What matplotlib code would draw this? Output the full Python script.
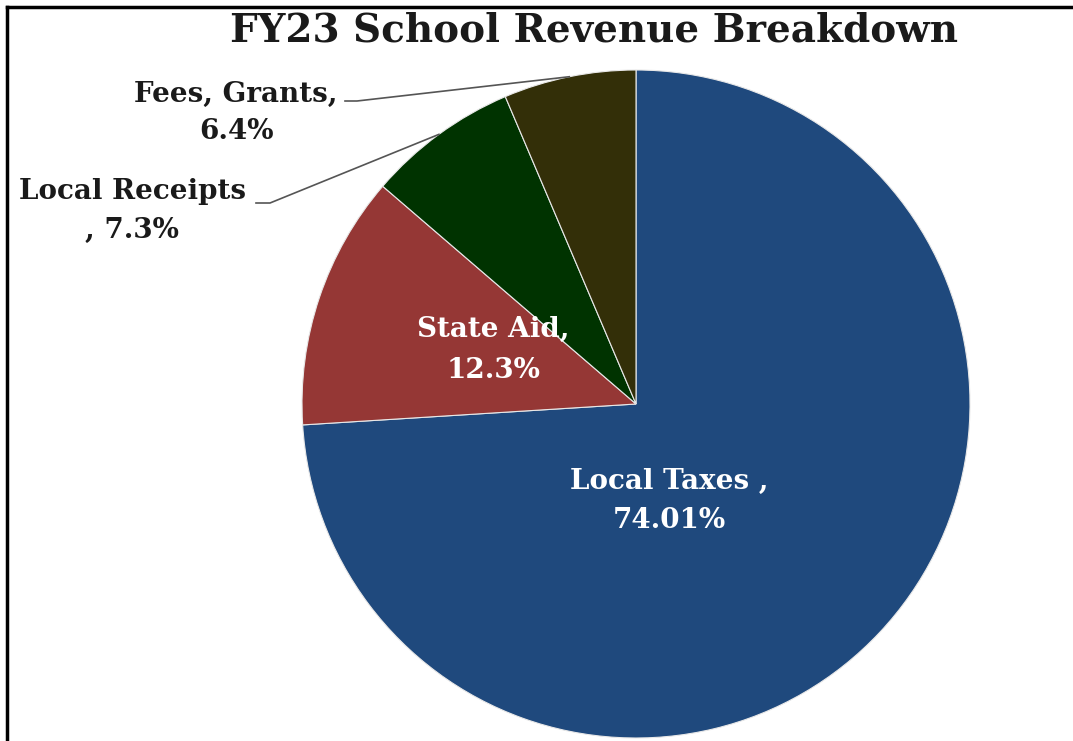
import matplotlib.pyplot as plt
from matplotlib.lines import Line2D
import numpy as np

labels = ['Local Taxes', 'State Aid', 'Local Receipts', 'Fees, Grants']
values = [74.01, 12.3, 7.3, 6.4]
label_text = ['Local Taxes ,\n74.01%', 'State Aid,\n12.3%', 'Local Receipts\n, 7.3%', 'Fees, Grants,\n6.4%']
colours = ['#1f497d', '#953735', '#003300', '#332f08']

W, H = 1073, 741
cx, cy, r = 636, 404, 334   # pie centre / radius in pixels


def px(x, y):
    # pixel position -> data position
    return (x - cx) / r, (cy - y) / r


fig = plt.figure(figsize=(W / 100, H / 100), dpi=100)
ax = fig.add_axes([0, 0, 1, 1])

wedges, _ = ax.pie(values, colors=colours, startangle=90, counterclock=False,
                   wedgeprops=dict(edgecolor='#e8e8e8', linewidth=0.8))
ax.set_aspect('auto')
ax.set_xlim(-cx / r, (W - cx) / r)
ax.set_ylim(-(H - cy) / r, cy / r)
ax.axis('off')

font = dict(family='DejaVu Serif', weight='bold')

# inside labels
ax.text(*px(669, 501), label_text[0], color='white', fontsize=20, ha='center', va='center',
        linespacing=1.55, **font)
ax.text(*px(493, 350), label_text[1], color='white', fontsize=20, ha='center', va='center',
        linespacing=1.65, **font)

# outside labels with leader lines
ax.text(*px(132, 211), label_text[2], color='#1a1a1a', fontsize=20, ha='center', va='center',
        linespacing=1.55, **font)
ax.text(*px(236, 113), label_text[3], color='#1a1a1a', fontsize=20, ha='center', va='center',
        linespacing=1.5, **font)

for w, (x0, x1, y0) in zip(wedges[2:], [(256, 270, 203), (345, 357, 101)]):
    th = np.deg2rad((w.theta1 + w.theta2) / 2)
    tip = (np.cos(th) * 1.0, np.sin(th) * 1.0)
    a, b = px(x0, y0), px(x1, y0)
    ax.add_line(Line2D([a[0], b[0], tip[0]], [a[1], b[1], tip[1]], color='#555555', lw=1.2))

fig.text(594 / W, 1 - 31 / H, 'FY23 School Revenue Breakdown', ha='center', va='center',
         fontsize=28, color='#1a1a1a', **font)

# frame (left and top edges only)
fig.add_artist(Line2D([6.5 / W, 6.5 / W], [0, 1 - 6.5 / H], transform=fig.transFigure, color='black', lw=2.5))
fig.add_artist(Line2D([6.5 / W, 1], [1 - 6.5 / H, 1 - 6.5 / H], transform=fig.transFigure, color='black', lw=2.5))

fig.savefig('out.png', dpi=100)
